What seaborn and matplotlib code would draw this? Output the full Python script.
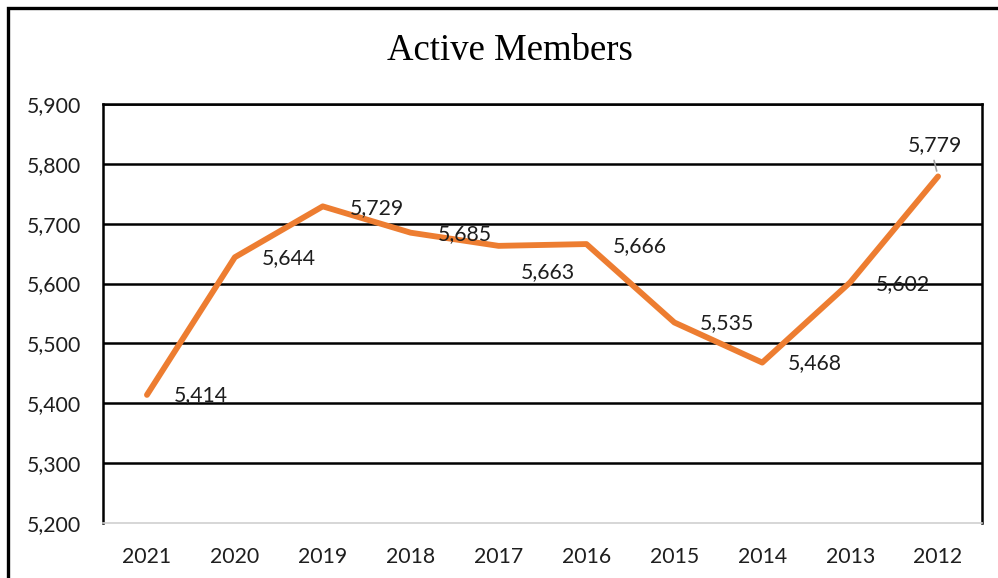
import matplotlib
matplotlib.use("Agg")
import matplotlib.pyplot as plt
import seaborn as sns
import pandas as pd
from matplotlib.patches import Rectangle

years = ["2021", "2020", "2019", "2018", "2017", "2016", "2015", "2014", "2013", "2012"]
members = [5414, 5644, 5729, 5685, 5663, 5666, 5535, 5468, 5602, 5779]
y_ticks = [5200, 5300, 5400, 5500, 5600, 5700, 5800, 5900]

sns.set_theme(style="white")
plt.rcParams['font.family'] = ['Lato', 'DejaVu Sans']

df = pd.DataFrame({"pos": range(len(years)), "year": years, "members": members})

fig = plt.figure(figsize=(9.98, 5.78), dpi=100)
ax = fig.add_axes([103/998, 1-523/578, (982-103)/998, (523-104)/578])

sns.lineplot(data=df, x="pos", y="members", ax=ax, color="#ED7D31", linewidth=4.2,
             solid_capstyle="round", solid_joinstyle="round", zorder=3)

fs = 15.3
ax.set_xlim(-0.5, len(years) - 0.5)
ax.set_ylim(5200, 5900)
ax.set_yticks(y_ticks)
ax.set_yticklabels([f"{v:,}" for v in y_ticks], fontsize=fs, color="#1e1e1e")
ax.set_xticks(range(len(years)))
ax.set_xticklabels(years, fontsize=fs, color="#1e1e1e")
ax.tick_params(axis="both", length=0)
ax.tick_params(axis="y", pad=16)
ax.tick_params(axis="x", pad=17)
ax.set_xlabel("")
ax.set_ylabel("")

for v in y_ticks[1:]:
    ax.axhline(v, color="black", linewidth=1.8, zorder=1)

for s in ["left", "right", "top"]:
    ax.spines[s].set_visible(True)
    ax.spines[s].set_color("black")
    ax.spines[s].set_linewidth(1.8)
ax.spines["bottom"].set_color("#d0d0d0")
ax.spines["bottom"].set_linewidth(1.2)

# data labels (pixel offsets)
offsets = [(54, 0), (54, -1), (54, -2), (54, -1), (49, -26), (53, -2), (53, -1), (53, -1), (53, -2), (-3, 31)]
for i, (v, off) in enumerate(zip(members, offsets)):
    ax.annotate(f"{v:,}", xy=(i, v), xytext=off, textcoords="offset pixels",
                ha="center", va="center", fontsize=fs, color="#1e1e1e", zorder=4)

# leader line for last label
ax.annotate("", xy=(len(years) - 1, members[-1]), xytext=(-4, 16), textcoords="offset pixels",
            arrowprops=dict(arrowstyle="-", color="#a0a0a0", lw=1.2, shrinkA=0, shrinkB=4), zorder=2)

fig.text(510/998, 1-51/578, "Active Members", ha="center", va="center",
         fontsize=26.5, family=["Liberation Serif", "DejaVu Serif"], color="black")

# outer chart border
fig.patches.append(Rectangle((8/998, -0.1), 1.2, 1 - 8/578 + 0.1, transform=fig.transFigure,
                             fill=False, edgecolor="black", linewidth=2.4, zorder=10))

fig.savefig("out.png", dpi=100)
